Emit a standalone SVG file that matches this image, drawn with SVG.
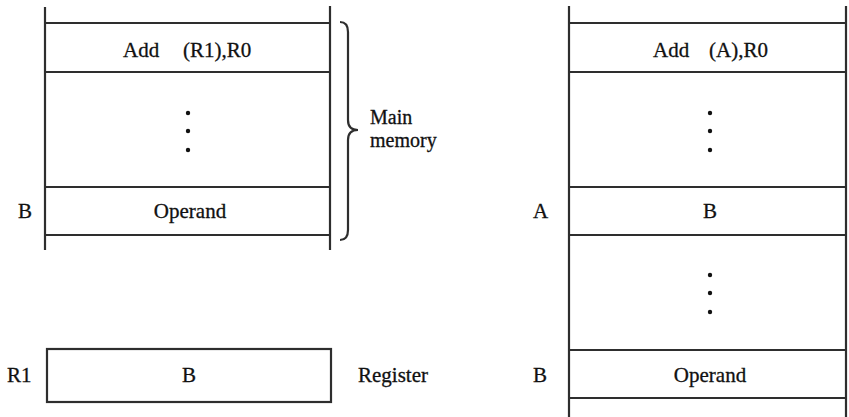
<svg xmlns="http://www.w3.org/2000/svg" width="849" height="417" viewBox="0 0 849 417">
<style>
.ln{stroke:#2e2e2e;stroke-width:2.2;fill:none}
.t{font-family:"Liberation Serif","Times New Roman",serif;font-size:21px;fill:#111;stroke:#111;stroke-width:0.3}
.s{font-size:20px}
.c{text-anchor:middle}
.dot{fill:#111}
</style>
<rect width="849" height="417" fill="#fff"/>
<g id="memory-left">
<line class="ln" x1="45" y1="7" x2="45" y2="250"/>
<line class="ln" x1="330" y1="6" x2="330" y2="250"/>
<line class="ln" x1="45" y1="23" x2="330" y2="23"/>
<line class="ln" x1="45" y1="72" x2="330" y2="72"/>
<line class="ln" x1="45" y1="187" x2="330" y2="187"/>
<line class="ln" x1="45" y1="235" x2="330" y2="235"/>
</g>
<g id="instr-left">
<text class="t" x="123" y="57">Add</text>
<text class="t" x="183" y="57">(R1),R0</text>
</g>
<g id="dots-left">
<circle class="dot" cx="188" cy="113" r="2.2"/>
<circle class="dot" cx="188" cy="131" r="2.2"/>
<circle class="dot" cx="188" cy="150" r="2.2"/>
</g>
<g id="operand-left">
<text class="t" x="18" y="218">B</text>
<text class="t c" x="190" y="218">Operand</text>
</g>
<g id="main-memory-label">
<path class="ln" stroke-width="2" d="M340,22 Q348,22 348,32 L348,120 Q348,130 358,130 Q348,130 348,140 L348,230 Q348,240 340,240"/>
<text class="t s" x="370" y="124">Main</text>
<text class="t s" x="370" y="147">memory</text>
</g>
<g id="register">
<text class="t" x="7" y="382">R1</text>
<rect class="ln" x="47" y="349" width="284" height="53"/>
<text class="t c" x="189" y="382">B</text>
<text class="t" x="358" y="382">Register</text>
</g>
<g id="memory-right">
<line class="ln" x1="569" y1="6" x2="569" y2="417"/>
<line class="ln" x1="846" y1="6" x2="846" y2="417"/>
<line class="ln" x1="569" y1="23" x2="846" y2="23"/>
<line class="ln" x1="569" y1="72" x2="846" y2="72"/>
<line class="ln" x1="569" y1="187" x2="846" y2="187"/>
<line class="ln" x1="569" y1="235" x2="846" y2="235"/>
<line class="ln" x1="569" y1="350" x2="846" y2="350"/>
<line class="ln" x1="569" y1="398" x2="846" y2="398"/>
</g>
<g id="instr-right">
<text class="t" x="653" y="57">Add</text>
<text class="t" x="709" y="57">(A),R0</text>
</g>
<g id="dots-right">
<circle class="dot" cx="710" cy="113" r="2.2"/>
<circle class="dot" cx="710" cy="131" r="2.2"/>
<circle class="dot" cx="710" cy="150" r="2.2"/>
<circle class="dot" cx="710" cy="275" r="2.2"/>
<circle class="dot" cx="710" cy="293" r="2.2"/>
<circle class="dot" cx="710" cy="312" r="2.2"/>
</g>
<g id="pointer-right">
<text class="t" x="533" y="218">A</text>
<text class="t c" x="710" y="218">B</text>
</g>
<g id="operand-right">
<text class="t" x="533" y="382">B</text>
<text class="t c" x="710" y="382">Operand</text>
</g>
</svg>
